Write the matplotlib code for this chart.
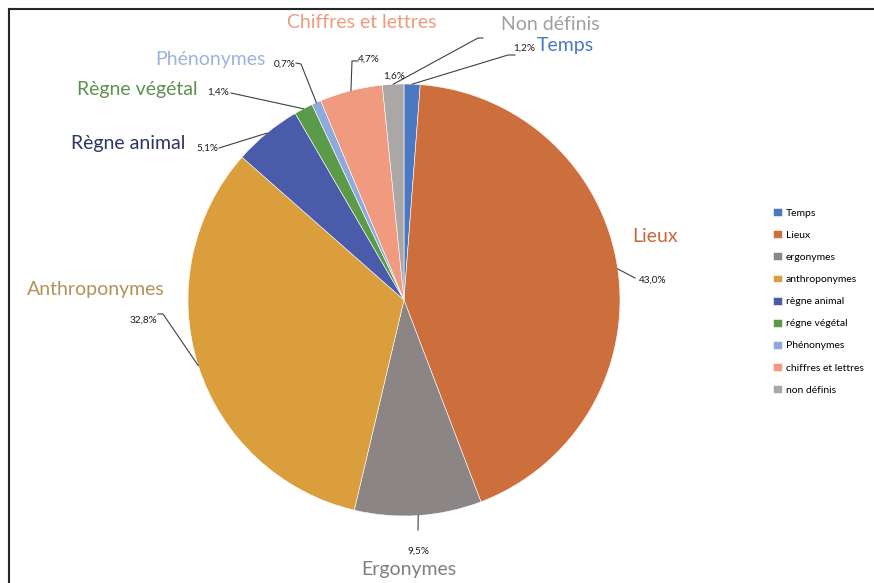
import numpy as np
import matplotlib.pyplot as plt
from matplotlib.lines import Line2D

plt.rcParams['font.family'] = ['Lato', 'DejaVu Sans']

# data, clockwise from the top
names = ["Temps", "Lieux", "Ergonymes", "Anthroponymes", "Règne animal",
         "Règne végétal", "Phénonymes", "Chiffres et lettres", "Non définis"]
legend_labels = ["Temps", "Lieux", "ergonymes", "anthroponymes", "règne animal",
                 "régne végétal", "Phénonymes", "chiffres et lettres", "non définis"]
values = [1.2, 43.0, 9.5, 32.8, 5.1, 1.4, 0.7, 4.7, 1.6]

colors = ["#4A78C2", "#CD6F3D", "#8C8585", "#DB9E3C", "#4A5BAA",
          "#5A9A48", "#8EA9DB", "#F09A80", "#ABA7A7"]
name_colors = ["#4A78C2", "#C8693A", "#7F7F7F", "#B0925A", "#2E3566",
               "#5E9050", "#9DB2DF", "#EE9A7E", "#A0A0A0"]

W, H = 874, 583
cx, cy, R = 404, 300, 216

# label layout in pixels (from top-left)
name_pos = [(537, 46, "left"), (655, 237, "center"), (409, 569, "center"),
            (96, 290, "center"), (128, 144, "center"), (137, 90, "center"),
            (210, 60, "center"), (362, 23, "center"), (550, 25, "center")]
pct_pos = [(535, 48, "right"), (653, 280, "center"), (418, 551, "center"),
           (143, 320, "center"), (207, 148, "center"), (218, 92, "center"),
           (285, 64, "center"), (369, 59, "center"), (394, 76, "center")]
leaders = [[(508, 55), (515, 55)],
           [(635, 278)],
           [(418, 530)],
           [(163, 314), (158, 314)],
           [(219, 148)],
           [(231, 93)],
           [(301, 64), (296, 63)],
           [(352, 61), (358, 61)],
           [(478, 38), (483, 38)]]


def p2d(x, y):
    return (x - cx) / R, (cy - y) / R


fig = plt.figure(figsize=(W / 100, H / 100), dpi=100)
ax = fig.add_axes([(cx - R) / W, (H - cy - R) / H, 2 * R / W, 2 * R / H])

wedges, _ = ax.pie(values, colors=colors, startangle=90, counterclock=False,
                   radius=1, wedgeprops=dict(edgecolor="white", linewidth=0.4))
ax.set_xlim(-1, 1)
ax.set_ylim(-1, 1)
ax.set_aspect("equal")
ax.axis("off")

for i, w in enumerate(wedges):
    ang = np.deg2rad((w.theta1 + w.theta2) / 2)
    xs = [np.cos(ang)]
    ys = [np.sin(ang)]
    for px, py in leaders[i]:
        dx, dy = p2d(px, py)
        xs.append(dx)
        ys.append(dy)
    ax.plot(xs, ys, color="#404040", lw=0.8, clip_on=False)

    pct = f"{values[i]:.1f}%".replace(".", ",")
    x, y, ha = pct_pos[i]
    ax.text(*p2d(x, y), pct, ha=ha, va="center", fontsize=7.2,
            color="#1A1A1A", clip_on=False)

    x, y, ha = name_pos[i]
    ax.text(*p2d(x, y), names[i], ha=ha, va="center", fontsize=14,
            color=name_colors[i], clip_on=False)

fig.legend(wedges, legend_labels, loc="upper left",
           bbox_to_anchor=(768 / W, 1 - 203 / H), frameon=False, fontsize=7.5,
           handlelength=0.8, handleheight=0.8, handletextpad=0.4,
           labelspacing=1.2, borderpad=0)

# frame (top and left edges visible)
fig.add_artist(Line2D([8.5 / W, 8.5 / W], [0, 1 - 8.5 / H],
                      transform=fig.transFigure, color="#262626", lw=1.5))
fig.add_artist(Line2D([8.5 / W, 1], [1 - 8.5 / H, 1 - 8.5 / H],
                      transform=fig.transFigure, color="#262626", lw=1.5))

fig.savefig("out.png", dpi=100)
